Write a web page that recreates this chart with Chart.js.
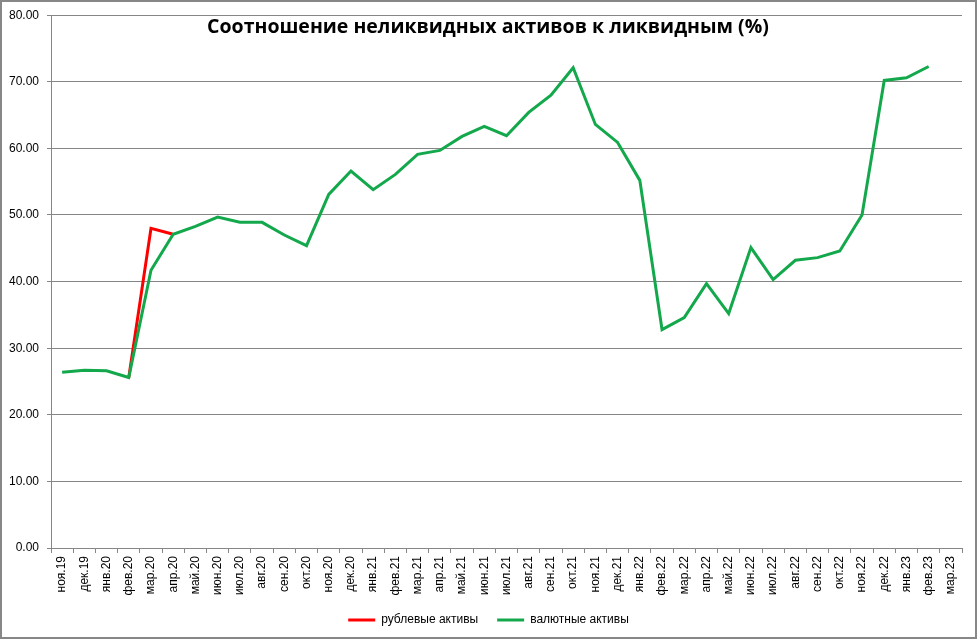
<!DOCTYPE html>
<html>
<head>
<meta charset="utf-8">
<script src="https://cdn.jsdelivr.net/npm/chart.js@4.4.1/dist/chart.umd.min.js"></script>
<style>
  html, body { margin: 0; padding: 0; background: #fff; }
  #wrap { position: relative; width: 977px; height: 639px; }
  #frame { position: absolute; left: 0; top: 0; width: 977px; height: 639px; box-sizing: border-box;
           border: 2px solid #878787; pointer-events: none; }
  canvas { display: block; }
</style>
</head>
<body>
<div id="wrap">
  <canvas id="c" width="977" height="639"></canvas>
  <div id="frame"></div>
</div>
<script>
const chartTitle = 'Соотношение неликвидных активов к ликвидным (%)';
const categories = ['ноя.19','дек.19','янв.20','фев.20','мар.20','апр.20','май.20','июн.20','июл.20','авг.20','сен.20','окт.20',
  'ноя.20','дек.20','янв.21','фев.21','мар.21','апр.21','май.21','июн.21','июл.21','авг.21','сен.21','окт.21',
  'ноя.21','дек.21','янв.22','фев.22','мар.22','апр.22','май.22','июн.22','июл.22','авг.22','сен.22','окт.22',
  'ноя.22','дек.22','янв.23','фев.23','мар.23'];
const rubLabel = 'рублевые активы';
const fxLabel = 'валютные активы';
const rubValues = [null, null, null, 25.6, 48.0, 47.1];
const fxValues = [26.4, 26.7, 26.6, 25.6, 41.7, 47.1, 48.3, 49.7, 48.9, 48.9, 47.0, 45.4,
  53.1, 56.6, 53.8, 56.1, 59.1, 59.7, 61.8, 63.3, 61.9, 65.4, 68.0, 72.1,
  63.6, 60.9, 55.2, 32.8, 34.6, 39.7, 35.2, 45.1, 40.3, 43.2, 43.6, 44.6,
  50.0, 70.2, 70.6, 72.3, null];
const yTicks = { min: 0, max: 80, step: 10 };

const GRID = '#868686';
const FONT = 'Liberation Sans, Arial, sans-serif';

const titlePlugin = {
  id: 'insideTitle',
  afterDraw(chart) {
    const ctx = chart.ctx;
    ctx.save();
    ctx.font = 'bold 19.5px "Open Sans", sans-serif';
    ctx.fillStyle = '#000';
    ctx.textAlign = 'center';
    ctx.textBaseline = 'middle';
    ctx.fillText(chartTitle, 488, 27);
    ctx.restore();
  }
};

new Chart(document.getElementById('c'), {
  type: 'line',
  data: {
    labels: categories,
    datasets: [
      { label: rubLabel, data: rubValues, borderColor: '#FF0000', backgroundColor: '#FF0000',
        borderWidth: 3, pointRadius: 0, tension: 0, order: 1, spanGaps: false },
      { label: fxLabel, data: fxValues, borderColor: '#14A84C', backgroundColor: '#14A84C',
        borderWidth: 3, pointRadius: 0, tension: 0, order: 0, spanGaps: false }
    ]
  },
  options: {
    responsive: false,
    animation: false,
    layout: { padding: { left: 0, right: 0, top: 15, bottom: 3 } },
    plugins: {
      title: { display: false },
      tooltip: { enabled: false },
      legend: {
        position: 'bottom',
        labels: {
          boxWidth: 27, boxHeight: 3, padding: 19,
          color: '#000', font: { family: FONT, size: 12 },
          generateLabels(chart) {
            return Chart.defaults.plugins.legend.labels.generateLabels(chart)
              .map(item => Object.assign(item, { lineWidth: 0 }));
          },
          sort: (a, b) => a.datasetIndex - b.datasetIndex
        }
      }
    },
    scales: {
      x: {
        offset: true,
        grid: { offset: true, drawOnChartArea: false, drawTicks: true, tickLength: 5, color: GRID },
        border: { display: true, color: GRID, width: 1 },
        ticks: { autoSkip: false, maxRotation: 90, minRotation: 90, padding: 3,
                 color: '#000', font: { family: FONT, size: 12 } },
        afterFit(s) { s.height = 47; }
      },
      y: {
        min: yTicks.min, max: yTicks.max,
        grid: { color: GRID, tickLength: 4, drawTicks: true },
        border: { display: true, color: GRID, width: 1 },
        ticks: { stepSize: yTicks.step, padding: 8, color: '#000', font: { family: FONT, size: 12 },
                 callback: v => Number(v).toFixed(2) },
        afterFit(s) { s.width = 51; }
      },
      yRightSpace: {
        position: 'right',
        min: yTicks.min, max: yTicks.max,
        grid: { display: false },
        border: { display: false },
        ticks: { display: false },
        afterFit(s) { s.width = 15; }
      }
    }
  },
  plugins: [titlePlugin]
});
</script>
</body>
</html>
